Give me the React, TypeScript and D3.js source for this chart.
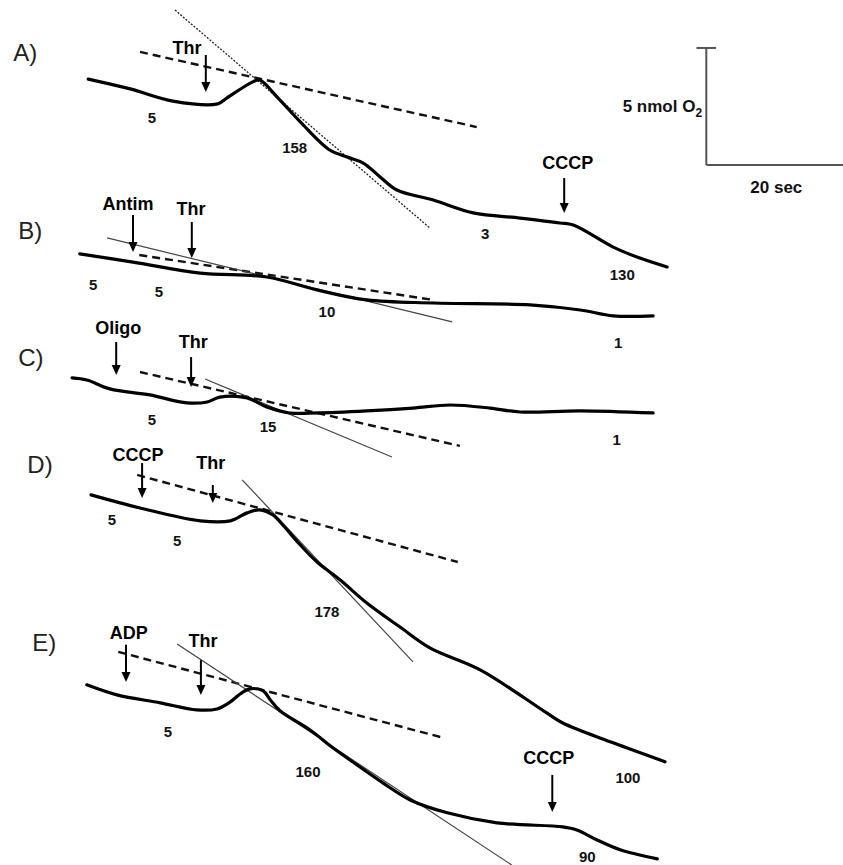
import * as d3 from "d3";
import React from "react";

// time in seconds, oxygen in nmol O2 consumed (grows downward)
type Pt = [number, number];

const traceA: Pt[] = [
  [12.6, 3.38], [18.6, 3.8], [24.7, 4.32], [31.1, 4.44], [32.4, 4.19], [36.1, 3.5],
  [37.1, 3.42], [39.6, 4.15], [42.9, 5.21], [47.1, 6.41], [49.6, 6.71], [51.9, 6.97],
  [54.3, 7.56], [56.7, 8.12], [61.9, 8.55], [67.6, 9.1], [74.3, 9.32], [80.0, 9.53],
  [81.9, 9.62], [87.6, 10.56], [91.4, 11.03], [95.3, 11.41],
];
const traceB: Pt[] = [
  [11.4, 10.85], [19.0, 11.2], [28.6, 11.67], [38.1, 11.84], [45.3, 12.39], [52.4, 12.82],
  [61.9, 12.95], [75.7, 13.03], [82.9, 13.25], [87.6, 13.5], [93.3, 13.5],
];
const traceC: Pt[] = [
  [10.3, 16.15], [12.4, 16.24], [15.7, 16.62], [21.4, 16.88], [26.7, 17.22], [29.6, 17.18],
  [31.4, 16.97], [35.3, 17.01], [38.1, 17.39], [41.4, 17.65], [45.3, 17.65], [52.4, 17.56],
  [59.0, 17.44], [64.3, 17.31], [70.0, 17.44], [74.3, 17.61], [82.9, 17.56], [93.3, 17.65],
];
const traceD: Pt[] = [
  [13.0, 21.15], [20.0, 21.71], [28.6, 22.26], [32.9, 22.26], [35.3, 21.92], [37.1, 21.79],
  [39.0, 22.01], [40.4, 22.44], [42.9, 23.29], [45.3, 24.02], [48.6, 24.79], [52.4, 25.77],
  [57.1, 26.79], [61.4, 27.69], [68.6, 28.63], [78.1, 30.47], [80.4, 30.9], [87.6, 31.75],
  [95.0, 32.56],
];
const traceE: Pt[] = [
  [12.4, 29.27], [16.7, 29.7], [22.9, 30.04], [28.1, 30.34], [31.0, 30.3], [32.9, 30.0],
  [34.3, 29.66], [35.7, 29.44], [37.6, 29.53], [38.6, 29.91], [40.0, 30.38], [44.3, 31.2],
  [47.6, 31.97], [50.0, 32.48], [54.7, 33.46], [58.6, 34.19], [63.9, 34.74], [71.0, 35.17],
  [80.4, 35.34], [82.4, 35.47], [85.3, 35.9], [88.6, 36.32], [93.9, 36.71],
];
const traces = [traceA, traceB, traceC, traceD, traceE];

// basal rate extrapolations (dashed) and maximal rate tangents (thin)
const dashedFits: Pt[][] = [
  [[20.0, 2.22], [68.1, 5.43]],
  [[19.9, 10.9], [61.9, 12.82]],
  [[20.0, 15.9], [65.7, 19.06]],
  [[19.6, 20.3], [65.4, 24.02]],
  [[16.9, 27.86], [62.9, 31.5]],
];
const thinFits: Pt[][] = [
  [[25.0, 0.43], [61.4, 9.74]],
  [[15.3, 10.17], [64.6, 13.76]],
  [[29.3, 16.2], [56.0, 19.53]],
  [[34.6, 20.51], [59.0, 28.29]],
  [[25.3, 27.52], [73.1, 36.97]],
];

// additions: time, arrow top / tip, label position
const additions = [
  { name: "Thr", t: 29.4, y0: 2.35, y1: 3.93, lt: 26.7, ly: 2.05 },
  { name: "CCCP", t: 80.6, y0: 7.61, y1: 9.1, lt: 81.1, ly: 6.97 },
  { name: "Antim", t: 19.0, y0: 9.19, y1: 10.77, lt: 18.3, ly: 8.72 },
  { name: "Thr", t: 27.4, y0: 9.49, y1: 11.03, lt: 27.3, ly: 8.93 },
  { name: "Oligo", t: 16.6, y0: 14.62, y1: 16.03, lt: 16.9, ly: 14.02 },
  { name: "Thr", t: 27.3, y0: 15.26, y1: 16.54, lt: 27.6, ly: 14.62 },
  { name: "CCCP", t: 20.3, y0: 19.79, y1: 21.28, lt: 19.7, ly: 19.44 },
  { name: "Thr", t: 30.4, y0: 20.73, y1: 21.5, lt: 30.1, ly: 19.79 },
  { name: "ADP", t: 18.0, y0: 27.56, y1: 29.15, lt: 18.4, ly: 27.05 },
  { name: "Thr", t: 28.7, y0: 28.21, y1: 29.7, lt: 29.0, ly: 27.39 },
  { name: "CCCP", t: 78.9, y0: 33.12, y1: 34.7, lt: 78.4, ly: 32.39 },
];

// respiration rates written next to the traces
const rates = [
  { text: "5", t: 21.7, y: 5.04 }, { text: "158", t: 42.1, y: 6.32 },
  { text: "3", t: 69.3, y: 9.96 }, { text: "130", t: 88.9, y: 11.75 },
  { text: "5", t: 13.3, y: 12.18 }, { text: "5", t: 22.7, y: 12.48 },
  { text: "10", t: 46.7, y: 13.33 }, { text: "1", t: 88.3, y: 14.62 },
  { text: "5", t: 21.7, y: 17.95 }, { text: "15", t: 38.3, y: 18.21 },
  { text: "1", t: 88.1, y: 18.8 },
  { text: "5", t: 16.0, y: 22.22 }, { text: "5", t: 25.3, y: 23.08 },
  { text: "178", t: 46.7, y: 26.15 }, { text: "100", t: 89.7, y: 33.21 },
  { text: "5", t: 24.0, y: 31.28 }, { text: "160", t: 44.0, y: 32.99 },
  { text: "90", t: 83.9, y: 36.62 },
];

const panels = [
  { name: "A)", t: 1.9, y: 2.26 },
  { name: "B)", t: 2.6, y: 9.87 },
  { name: "C)", t: 2.6, y: 15.26 },
  { name: "D)", t: 3.9, y: 19.87 },
  { name: "E)", t: 4.6, y: 27.48 },
];

const scaleBar = { t: 100.9, y: 2.05, dt: 20, dy: 5 };

const App = () => {
  const width = 843;
  const height = 865;
  const x = d3.scaleLinear().domain([0, 120]).range([0, 840]);
  const y = d3.scaleLinear().domain([0, 36.97]).range([0, 865]);

  const trace = d3.line<Pt>().x(d => x(d[0])).y(d => y(d[1])).curve(d3.curveCatmullRom.alpha(0.5));
  const straight = d3.line<Pt>().x(d => x(d[0])).y(d => y(d[1]));

  const bold = "Arial, 'Liberation Sans', sans-serif";
  const head = 10;

  return (
    <svg width={width} height={height} style={{ position: "absolute", left: 0, top: 0, background: "#fff" }}>
      {dashedFits.map((d, i) => (
        <path key={"d" + i} d={straight(d) ?? ""} fill="none" stroke="#111" strokeWidth={2.4} strokeDasharray="8,5" />
      ))}
      {thinFits.map((d, i) => (
        <path key={"t" + i} d={straight(d) ?? ""} fill="none" stroke={i === 0 ? "#222" : "#444"}
          strokeWidth={i === 0 ? 1.3 : 1.2} strokeDasharray={i === 0 ? "2,1.5" : undefined} />
      ))}
      {traces.map((d, i) => (
        <path key={"tr" + i} d={trace(d) ?? ""} fill="none" stroke="#000" strokeWidth={3.2}
          strokeLinejoin="round" strokeLinecap="round" />
      ))}

      {additions.map((a, i) => {
        const ax = x(a.t);
        const top = y(a.y0);
        const tip = y(a.y1);
        return (
          <g key={"a" + i}>
            <line x1={ax} x2={ax} y1={top} y2={tip - head + 1} stroke="#000" strokeWidth={2} />
            <path d={`M${ax - 4.5},${tip - head}L${ax + 4.5},${tip - head}L${ax},${tip}Z`} fill="#000" />
            <text x={x(a.lt)} y={y(a.ly)} textAnchor="middle" dominantBaseline="central"
              fontFamily={bold} fontWeight="bold" fontSize={18}>{a.name}</text>
          </g>
        );
      })}

      {rates.map((r, i) => (
        <text key={"r" + i} x={x(r.t)} y={y(r.y)} textAnchor="middle" dominantBaseline="central"
          fontFamily={bold} fontWeight="bold" fontSize={15} fill="#111">{r.text}</text>
      ))}

      {panels.map((p, i) => (
        <text key={"p" + i} x={x(p.t)} y={y(p.y)} dominantBaseline="central"
          fontFamily={bold} fontSize={24} fill="#222">{p.name}</text>
      ))}

      <g stroke="#555" strokeWidth={2} fill="none">
        <line x1={x(scaleBar.t)} x2={x(scaleBar.t)} y1={y(scaleBar.y)} y2={y(scaleBar.y + scaleBar.dy)} />
        <line x1={x(scaleBar.t - 1.4)} x2={x(scaleBar.t + 1.4)} y1={y(scaleBar.y)} y2={y(scaleBar.y)} />
        <line x1={x(scaleBar.t)} x2={x(scaleBar.t + scaleBar.dt)} y1={y(scaleBar.y + scaleBar.dy)} y2={y(scaleBar.y + scaleBar.dy)} />
      </g>
      <text x={x(scaleBar.t - 0.6)} y={y(scaleBar.y + scaleBar.dy / 2)} textAnchor="end" dominantBaseline="central"
        fontFamily={bold} fontWeight="bold" fontSize={17} fill="#111">
        5 nmol O<tspan fontSize={12} dy={7}>2</tspan>
      </text>
      <text x={x(scaleBar.t + scaleBar.dt / 2)} y={y(scaleBar.y + scaleBar.dy + 0.98)} textAnchor="middle"
        dominantBaseline="central" fontFamily={bold} fontWeight="bold" fontSize={17} fill="#111">20 sec</text>
    </svg>
  );
};

export default App;
